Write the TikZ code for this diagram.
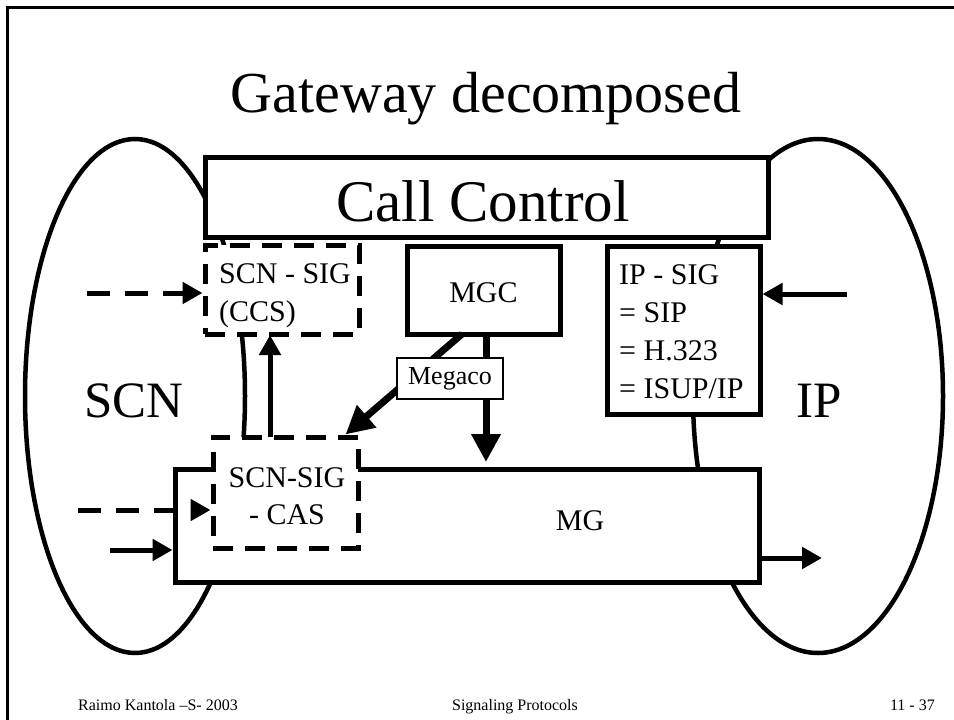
\documentclass[tikz,border=0pt]{standalone}
\usepackage{fontspec}
\setmainfont{Liberation Serif}
\usetikzlibrary{arrows.meta}

\begin{document}
\begin{tikzpicture}[x=1pt,y=-1pt,
  box/.style={draw, line width=5pt, fill=white, inner sep=0pt},
  dbox/.style={box, dash pattern=on 20pt off 12pt},
  txttitle/.style={font=\fontsize{58}{70}\selectfont, inner sep=0pt},
  txtbig/.style={font=\fontsize{51}{60}\selectfont, inner sep=0pt},
  txtmid/.style={font=\fontsize{30}{36}\selectfont, inner sep=0pt},
  txtfoot/.style={font=\fontsize{16}{19}\selectfont, inner sep=0pt},
  smallhead/.style={-{Triangle[length=20pt,width=21pt]}, line width=5pt},
  bighead/.style={-{Triangle[length=28pt,width=28pt]}, line width=7pt},
  dashflow/.style={smallhead, dash pattern=on 23pt off 15pt},
  netline/.style={draw, line width=4.5pt}
]
\useasboundingbox (0,0) rectangle (954,720);

% slide frame
\draw[line width=3pt] (7.5,730) -- (7.5,7.5) -- (965,7.5);

% title
\node[txttitle, anchor=base] (title) at (486,112) {Gateway decomposed};

% network domains
\draw[netline] (135,396) ellipse [x radius=110, y radius=257];
\draw[netline] (818,396) ellipse [x radius=125, y radius=257];

% functional blocks
\node[box, minimum width=563pt, minimum height=80pt] (cc) at (486.5,197) {};
\node[font=\fontsize{59}{70}\selectfont, inner sep=0pt, anchor=base] (cctext) at (483,221) {Call Control};

\node[box, minimum width=584pt, minimum height=113pt] (mg) at (467,525.5) {};
\node[txtmid, anchor=base] (mgtext) at (580,530) {MG};

\node[dbox, minimum width=154pt, minimum height=89pt] (ccs) at (282,289.5) {};
\node[txtmid, anchor=base west] (ccs1) at (219,283) {SCN - SIG};
\node[txtmid, anchor=base west] (ccs2) at (219,321) {(CCS)};

\node[dbox, minimum width=145pt, minimum height=111pt] (cas) at (285.5,492.5) {};
\node[txtmid, anchor=base] (cas1) at (287,487) {SCN-SIG};
\node[txtmid, anchor=base] (cas2) at (287,524) {- CAS};

\node[box, minimum width=153pt, minimum height=88pt] (mgc) at (483.5,290) {};
\node[txtmid, anchor=base] (mgctext) at (483.5,302) {MGC};

\node[box, minimum width=153pt, minimum height=168pt] (ipsig) at (683.5,330) {};
\node[txtmid, anchor=base west] (ip1) at (619,284) {IP - SIG};
\node[txtmid, anchor=base west] (ip2) at (619,322) {= SIP};
\node[txtmid, anchor=base west] (ip3) at (619,360) {= H.323};
\node[txtmid, anchor=base west] (ip4) at (619,398) {= ISUP/IP};

% domain labels
\node[txtbig, anchor=base] (scn) at (134,417) {SCN};
\node[txtbig, anchor=base] (ip) at (819,417) {IP};

% flows
\coordinate (ccsin) at (87,293);
\coordinate (casin) at (78,510);
\coordinate (mgin) at (110,550);
\coordinate (ipin) at (847,294);
\coordinate (mgout) at (822,558);

\draw[dashflow] (ccsin) -- (ccsin -| ccs.west);
\draw[dashflow] (casin) -- (casin -| cas.west);
\draw[smallhead] (mgin) -- (mgin -| mg.west);
\draw[smallhead] (ipin) -- (ipin -| ipsig.east);
\draw[smallhead] (mgout -| mg.east) -- (mgout);
\draw[smallhead] (270,437) -- (270,335);

\draw[bighead] (462,334) -- ([xshift=-15pt]cas.north east);
\draw[bighead] (486,334) -- (486,462);

\node[draw, line width=1.2pt, fill=white, minimum width=106pt, minimum height=41pt,
  inner sep=0pt, font=\fontsize{26}{30}\selectfont] (megaco) at (450,378.5) {Megaco};

% footer
\node[txtfoot, anchor=base west] (f1) at (78,710) {Raimo Kantola –S- 2003};
\node[txtfoot, anchor=base] (f2) at (515,710) {Signaling Protocols};
\node[txtfoot, anchor=base east] (f3) at (935,710) {11 - 37};
\end{tikzpicture}
\end{document}
